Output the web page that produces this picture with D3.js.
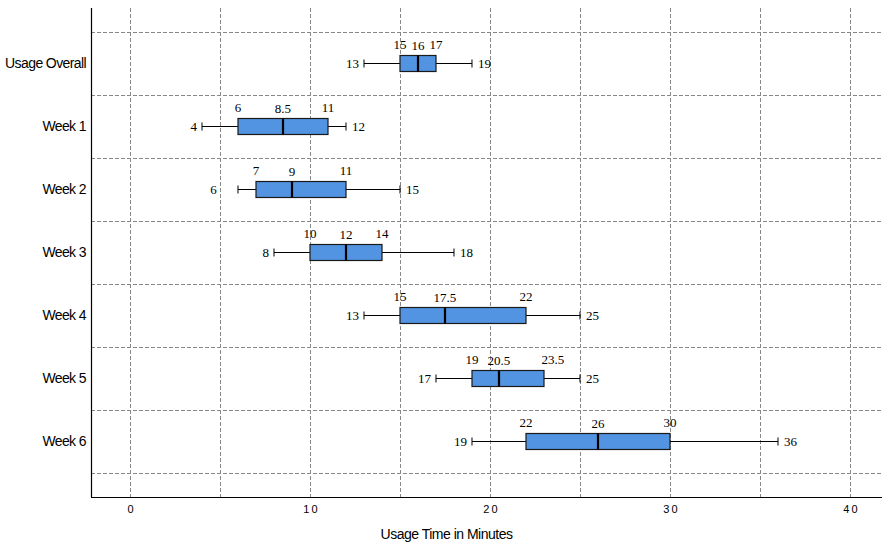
<!DOCTYPE html>
<html>
<head>
<meta charset="utf-8">
<script src="https://cdn.jsdelivr.net/npm/d3@7"></script>
<style>
  body { margin: 0; background: #fff; }
  svg { display: block; }
</style>
</head>
<body>
<svg id="chart" width="882" height="545"></svg>
<script>
// categories and five-number summaries (drawn marks)
var categories = ["Usage Overall", "Week 1", "Week 2", "Week 3", "Week 4", "Week 5", "Week 6"];
var mins    = [13, 4, 6, 8, 13, 17, 19];
var q1s     = [15, 6, 7, 10, 15, 19, 22];
var medians = [16, 8.5, 9, 12, 17.5, 20.5, 26];
var q3s     = [17, 11, 12, 14, 22, 23, 30];
var maxs    = [19, 12, 15, 18, 25, 25, 36];
// the printed labels do not always agree with the drawn marks
var q3Text  = ["17", "11", "11", "14", "22", "23.5", "30"];
var q3TextAt = [17, 11, 12, 14, 22, 23.5, 30];
var minTextAt = [13, 4, 5.1, 8, 13, 17, 19];
var xTicks  = [0, 10, 20, 30, 40];
var gridTicks = [0, 5, 10, 15, 20, 25, 30, 35, 40];

var svg = d3.select("#chart");
var plotLeft = 91, plotRight = 882, plotTop = 8, plotBottom = 497;

var x = d3.scaleLinear().domain([-2.1667, 41.778]).range([plotLeft, plotRight]);
var y = d3.scaleBand().domain(categories).range([32, 473]).padding(0);

var rows = categories.map(function (c, i) {
    return {name: c, min: mins[i], q1: q1s[i], med: medians[i], q3: q3s[i], max: maxs[i],
            q3Text: q3Text[i], q3At: q3TextAt[i], minAt: minTextAt[i]};
});

// grid
var grid = svg.append("g").attr("stroke", "#888").attr("stroke-dasharray", "4,2").attr("stroke-width", 1);
grid.selectAll(".vg").data(gridTicks).enter().append("line")
    .attr("x1", function (d) { return Math.round(x(d)) + 0.5; })
    .attr("x2", function (d) { return Math.round(x(d)) + 0.5; })
    .attr("y1", plotTop).attr("y2", plotBottom);
var bounds = categories.map(function (c) { return y(c); }).concat([y.range()[1]]);
grid.selectAll(".hg").data(bounds).enter().append("line")
    .attr("x1", plotLeft).attr("x2", plotRight)
    .attr("y1", function (d) { return Math.round(d) + 0.5; })
    .attr("y2", function (d) { return Math.round(d) + 0.5; });

// axes lines
svg.append("line").attr("x1", plotLeft + 0.5).attr("x2", plotLeft + 0.5)
    .attr("y1", plotTop).attr("y2", plotBottom).attr("stroke", "#000").attr("stroke-width", 1.2);
svg.append("line").attr("x1", plotLeft).attr("x2", plotRight)
    .attr("y1", plotBottom + 0.5).attr("y2", plotBottom + 0.5).attr("stroke", "#000").attr("stroke-width", 1.2);

// x tick labels
var xAxis = d3.axisBottom(x).tickValues(xTicks).tickSize(0).tickPadding(8).tickFormat(d3.format("d"));
var gx = svg.append("g").attr("transform", "translate(1," + plotBottom + ")").call(xAxis);
gx.select(".domain").remove();
gx.selectAll("text").attr("font-family", "Liberation Sans, Arial, sans-serif")
    .attr("font-size", 11).attr("letter-spacing", "2px").attr("fill", "#000");

// y category labels
var yAxis = d3.axisLeft(y).tickSize(0).tickPadding(5);
var gy = svg.append("g").attr("transform", "translate(" + plotLeft + ",0)").call(yAxis);
gy.select(".domain").remove();
gy.selectAll("text").attr("font-family", "Liberation Sans, Arial, sans-serif")
    .attr("font-size", 14).attr("letter-spacing", "-0.6px").attr("fill", "#000");

// axis title
svg.append("text").attr("x", 446.5).attr("y", 539).attr("text-anchor", "middle")
    .attr("font-family", "Liberation Sans, Arial, sans-serif").attr("font-size", 14)
    .attr("letter-spacing", "-0.5px").text("Usage Time in Minutes");

// boxes
var boxH = 16, capH = 8;
var g = svg.selectAll(".box").data(rows).enter().append("g").attr("class", "box")
    .attr("transform", function (d) { return "translate(0," + (y(d.name) + y.bandwidth() / 2) + ")"; });

g.append("line").attr("x1", function (d) { return x(d.min); }).attr("x2", function (d) { return x(d.q1); })
    .attr("y1", 0).attr("y2", 0).attr("stroke", "#000");
g.append("line").attr("x1", function (d) { return x(d.q3); }).attr("x2", function (d) { return x(d.max); })
    .attr("y1", 0).attr("y2", 0).attr("stroke", "#000");
g.append("line").attr("x1", function (d) { return x(d.min); }).attr("x2", function (d) { return x(d.min); })
    .attr("y1", -capH / 2).attr("y2", capH / 2).attr("stroke", "#000");
g.append("line").attr("x1", function (d) { return x(d.max); }).attr("x2", function (d) { return x(d.max); })
    .attr("y1", -capH / 2).attr("y2", capH / 2).attr("stroke", "#000");
g.append("rect").attr("x", function (d) { return x(d.q1); })
    .attr("width", function (d) { return x(d.q3) - x(d.q1); })
    .attr("y", -boxH / 2).attr("height", boxH)
    .attr("fill", "#5294e2").attr("stroke", "#1a1a1a").attr("stroke-width", 1.2);
g.append("line").attr("x1", function (d) { return x(d.med); }).attr("x2", function (d) { return x(d.med); })
    .attr("y1", -boxH / 2).attr("y2", boxH / 2).attr("stroke", "#000").attr("stroke-width", 2.2);

// value labels
var lab = function (sel) {
    return sel.attr("font-family", "Liberation Serif, Times New Roman, serif").attr("font-size", 13).attr("fill", "#000");
};
lab(g.append("text")).attr("x", function (d) { return x(d.q1); }).attr("y", -boxH / 2 - 6.5)
    .attr("text-anchor", "middle").text(function (d) { return String(d.q1); });
lab(g.append("text")).attr("x", function (d) { return x(d.med); }).attr("y", -boxH / 2 - 5.5)
    .attr("text-anchor", "middle").text(function (d) { return String(d.med); });
lab(g.append("text")).attr("x", function (d) { return x(d.q3At); }).attr("y", -boxH / 2 - 6.5)
    .attr("text-anchor", "middle").text(function (d) { return d.q3Text; });
lab(g.append("text")).attr("x", function (d) { return x(d.minAt) - 5; }).attr("y", 4)
    .attr("text-anchor", "end").text(function (d) { return String(d.min); });
lab(g.append("text")).attr("x", function (d) { return x(d.max) + 6; }).attr("y", 4)
    .attr("text-anchor", "start").text(function (d) { return String(d.max); });
</script>
</body>
</html>
